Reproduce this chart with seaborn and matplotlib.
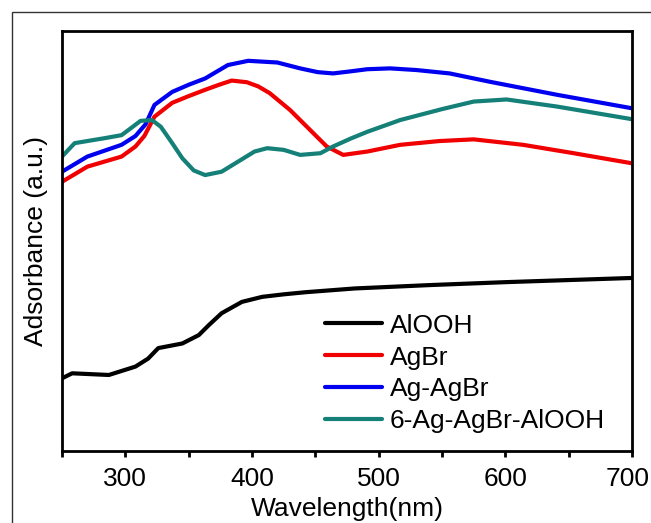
import matplotlib.pyplot as plt
import matplotlib.patches as mpatches
import matplotlib.transforms as mtransforms
from matplotlib.ticker import MultipleLocator
import pandas as pd
import seaborn as sns

# values (wavelength nm, absorbance a.u.)
wl_alooh = [250, 258, 287, 308, 318, 326, 345, 358, 366, 376, 392, 408, 425, 442, 481, 540, 600, 650, 700]
ab_alooh = [0.173, 0.185, 0.181, 0.201, 0.220, 0.245, 0.256, 0.276, 0.300, 0.328, 0.355, 0.367, 0.373, 0.378, 0.387, 0.395, 0.402, 0.407, 0.412]

wl_agbr = [250, 270, 297, 308, 315, 323, 337, 350, 363, 374, 384, 396, 405, 414, 430, 446, 459, 472, 491, 517, 548, 575, 614, 654, 700]
ab_agbr = [0.641, 0.677, 0.701, 0.725, 0.750, 0.796, 0.829, 0.845, 0.860, 0.872, 0.882, 0.878, 0.868, 0.852, 0.812, 0.764, 0.725, 0.705, 0.713, 0.729, 0.738, 0.742, 0.729, 0.709, 0.685]

wl_agagbr = [250, 270, 297, 308, 316, 323, 337, 350, 363, 381, 397, 420, 438, 452, 464, 478, 491, 509, 530, 556, 588, 641, 700]
ab_agagbr = [0.665, 0.701, 0.729, 0.750, 0.778, 0.824, 0.855, 0.872, 0.887, 0.919, 0.929, 0.925, 0.911, 0.902, 0.899, 0.904, 0.909, 0.911, 0.907, 0.899, 0.879, 0.848, 0.816]

wl_comp = [250, 260, 284, 297, 305, 312, 321, 328, 337, 345, 354, 363, 376, 389, 402, 412, 425, 438, 454, 464, 478, 491, 517, 550, 575, 601, 641, 700]
ab_comp = [0.701, 0.733, 0.745, 0.752, 0.770, 0.786, 0.788, 0.772, 0.733, 0.697, 0.668, 0.657, 0.665, 0.689, 0.713, 0.721, 0.717, 0.705, 0.709, 0.725, 0.744, 0.760, 0.788, 0.814, 0.832, 0.837, 0.820, 0.790]

names = ['AlOOH', 'AgBr', 'Ag-AgBr', '6-Ag-AgBr-AlOOH']
colors = ['#000000', '#f00000', '#0000f0', '#148078']

frames = []
for name, wl, ab in zip(names, [wl_alooh, wl_agbr, wl_agagbr, wl_comp],
                        [ab_alooh, ab_agbr, ab_agagbr, ab_comp]):
    frames.append(pd.DataFrame({'wl': wl, 'ab': ab, 'sample': name}))
df = pd.concat(frames, ignore_index=True)

sns.set_style('white')
plt.rcParams['font.family'] = ['Liberation Sans', 'DejaVu Sans']
plt.rcParams['text.color'] = 'black'
plt.rcParams['axes.labelcolor'] = 'black'
plt.rcParams['xtick.color'] = 'black'

fig = plt.figure(figsize=(6.51, 5.23), dpi=100)
ax = fig.add_axes([62 / 651, 1 - 451 / 523, 570 / 651, 420 / 523])

sns.lineplot(data=df, x='wl', y='ab', hue='sample', hue_order=names,
             palette=dict(zip(names, colors)), linewidth=3, errorbar=None,
             ax=ax)

ax.set_xlim(250, 700)
ax.set_ylim(0, 1)
ax.xaxis.set_major_locator(MultipleLocator(100))
ax.xaxis.set_minor_locator(MultipleLocator(50))
ax.tick_params(axis='x', which='both', direction='out', length=4.5, width=2,
               bottom=True, labelsize=19, pad=7, colors='black')
ax.set_xticks([300, 400, 500, 600, 700])
ax.set_yticks([])
for s in ax.spines.values():
    s.set_linewidth(2)
    s.set_color('black')

# the last label sits at the very edge; nudge it a few pixels inward
last = ax.get_xticklabels()[-1]
last.set_transform(last.get_transform() +
                   mtransforms.ScaledTranslation(-4 / 100, 0, fig.dpi_scale_trans))

ax.set_xlabel('Wavelength(nm)', fontsize=19, labelpad=4)
ax.set_ylabel('Adsorbance (a.u.)', fontsize=19, labelpad=10)

leg = ax.legend(loc='lower left', bbox_to_anchor=(0.462, 0.042), frameon=False,
                fontsize=19, handlelength=2.15, handletextpad=0.3,
                labelspacing=0.3, borderpad=0, borderaxespad=0)
for line in leg.get_lines():
    line.set_linewidth(3)

# thin outer frame of the original panel
fig.add_artist(mpatches.Rectangle((12 / 651, -0.2), 1.2, 0.2 + (523 - 12) / 523,
                                  transform=fig.transFigure, fill=False,
                                  linewidth=1, edgecolor='#333333'))

fig.savefig('out.png', dpi=100)
